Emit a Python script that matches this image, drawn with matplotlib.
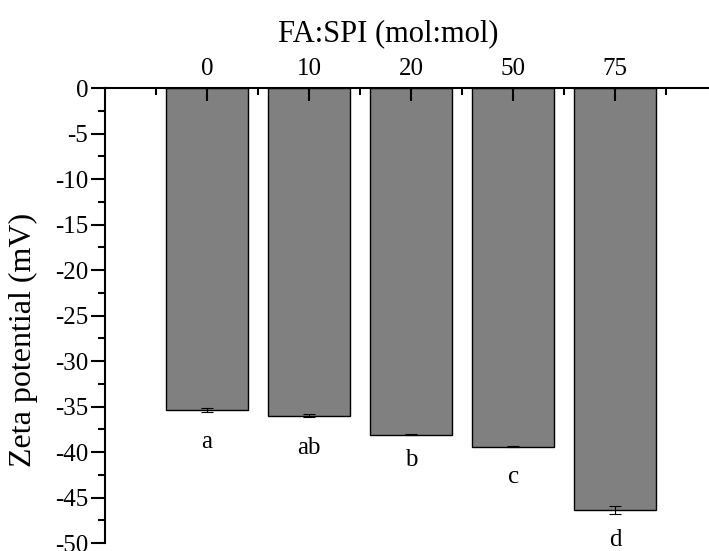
import matplotlib.pyplot as plt
from matplotlib.ticker import MultipleLocator

plt.rcParams["font.family"] = ["Liberation Serif", "DejaVu Serif"]

ratios = ["0", "10", "20", "50", "75"]
zeta = [-35.4, -36.0, -38.1, -39.4, -46.4]
errors = [0.25, 0.2, 0.05, 0.05, 0.45]
letters = ["a", "ab", "b", "c", "d"]
letter_y = [-38.9, -39.6, -40.9, -42.7, -49.7]


def make_plot(output_path: str) -> None:
    fig = plt.figure(figsize=(7.09, 5.51), dpi=100)
    ax = fig.add_axes([0.148, 0.0145, 0.852, 0.8255])
    pos = list(range(len(ratios)))
    ax.bar(pos, zeta, width=0.8, color="#808080", edgecolor="black", linewidth=1.0)
    ax.errorbar(pos, zeta, yerr=errors, fmt="none", ecolor="black",
                elinewidth=0.8, capsize=4, capthick=0.8)
    for x, lab, y in zip(pos, letters, letter_y):
        ax.text(x, y, lab, ha="center", va="center", fontsize=18)

    ax.set_xlim(-1, 4.92)
    ax.set_ylim(-50, 0)
    ax.xaxis.tick_top()
    ax.xaxis.set_label_position("top")
    ax.set_xticks(pos)
    ax.set_xticklabels(ratios)
    ax.set_xticks([p + 0.5 for p in [-1] + pos], minor=True)
    ax.yaxis.set_major_locator(MultipleLocator(5))
    ax.yaxis.set_minor_locator(MultipleLocator(2.5))
    ax.set_yticklabels([f"{int(v)}" for v in ax.get_yticks()])

    ax.tick_params(axis="x", which="major", direction="in", length=9, width=1.5,
                   labelsize=18, pad=6)
    ax.tick_params(axis="x", which="minor", direction="in", length=5, width=1.5)
    ax.tick_params(axis="y", which="major", direction="out", length=10, width=1.5,
                   labelsize=18, pad=2)
    ax.tick_params(axis="y", which="minor", direction="out", length=5, width=1.5)

    for side in ["bottom", "right"]:
        ax.spines[side].set_visible(False)
    for side in ["top", "left"]:
        ax.spines[side].set_linewidth(1.5)

    ax.set_xlabel("FA:SPI (mol:mol)", fontsize=22)
    ax.xaxis.set_label_coords(0.469, 1.103)
    ax.set_ylabel("Zeta potential (mV)", fontsize=23)
    ax.yaxis.set_label_coords(-0.110, 0.446)

    fig.savefig(output_path, dpi=100)
    plt.close(fig)


if __name__ == "__main__":
    make_plot("out.png")
